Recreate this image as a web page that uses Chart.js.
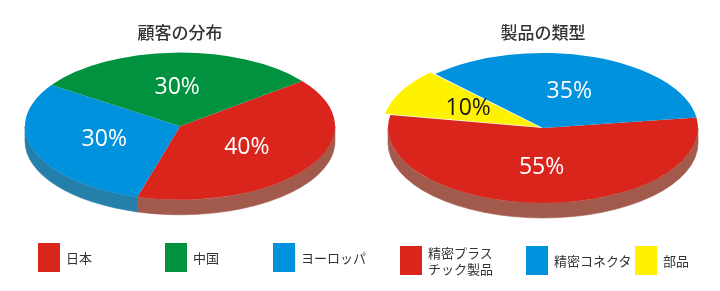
<!DOCTYPE html>
<html><head><meta charset="utf-8">
<script src="https://cdn.jsdelivr.net/npm/chart.js@4.4.0/dist/chart.umd.min.js"></script>
<style>
html,body{margin:0;padding:0;background:#fff;width:720px;height:291px;overflow:hidden;font-family:"Noto Sans CJK JP",sans-serif;}
#wrap{position:relative;width:720px;height:291px;}
canvas{position:absolute;top:0;}
.item{position:absolute;height:29px;display:flex;align-items:center;}
.box{width:22px;height:29px;flex:none;}
.txt{margin-left:6px;font-size:13px;line-height:15.6px;color:#333;white-space:pre;}
</style></head><body>
<div id="wrap">
<canvas id="c1" width="360" height="291" style="left:0"></canvas>
<canvas id="c2" width="360" height="291" style="left:360px"></canvas>
</div>
<script>
// ---- data ----
const customerTitle = '顧客の分布';
const customerLabels = ['日本', '中国', 'ヨーロッパ'];
const customerValues = [40, 30, 30];

const productTitle = '製品の類型';
const productLabels = ['精密プラス\nチック製品', '精密コネクタ', '部品'];
const productValues = [55, 35, 10];

// ---- styles ----
const customerColors = ['#da251d', '#00923f', '#0092dd'];
const customerSides = ['#a25a4c', '#1c6e3f', '#2480aa'];
const customerTextColors = ['#ffffff', '#ffffff', '#ffffff'];
const customerOffsets = [0, 0, 0];

const productColors = ['#da251d', '#0092dd', '#fff200'];
const productSides = ['#a25a4c', '#2480aa', '#b0a600'];
const productTextColors = ['#ffffff', '#ffffff', '#1a1a1a'];
const productOffsets = [0, 0, 8];

// slices are drawn clockwise in this order (legend keeps original order)
const drawOrder = [0, 2, 1];

const pie3d = {
  id: 'pie3d',
  beforeDatasetsDraw(chart, args, o) {
    const ctx = chart.ctx;
    const meta = chart.getDatasetMeta(0);
    const arcs = meta.data;
    const ds = chart.data.datasets[0];
    const cx = arcs[0].x, cy = arcs[0].y, r = arcs[0].outerRadius;
    const sx = o.rx / r;
    const rx = r * sx, ry = r;
    const D = o.depth;
    arcs.forEach((a, i) => {
      for (const k of [-1, 0, 1]) {
        const s = a.startAngle + k * 2 * Math.PI, e = a.endAngle + k * 2 * Math.PI;
        const lo = Math.max(s, 0), hi = Math.min(e, Math.PI);
        if (hi > lo) {
          ctx.beginPath();
          ctx.ellipse(cx, cy, rx, ry, 0, lo, hi, false);
          ctx.lineTo(cx + rx * Math.cos(hi), cy + ry * Math.sin(hi) + D);
          ctx.ellipse(cx, cy + D, rx, ry, 0, hi, lo, true);
          ctx.closePath();
          ctx.fillStyle = ds.sideColor[i];
          ctx.fill();
          ctx.strokeStyle = ds.sideColor[i];
          ctx.lineWidth = 0.6;
          ctx.stroke();
        }
      }
    });
    ctx.save();
    ctx.translate(cx, cy);
    ctx.scale(sx, 1);
    ctx.translate(-cx, -cy);
  },
  afterDatasetsDraw(chart, args, o) {
    const ctx = chart.ctx;
    ctx.restore();
    const arcs = chart.getDatasetMeta(0).data;
    const ds = chart.data.datasets[0];
    const r = arcs[0].outerRadius;
    const sx = o.rx / r;
    ctx.save();
    ctx.font = '23px "Open Sans", sans-serif';
    ctx.textAlign = 'center';
    ctx.textBaseline = 'middle';
    arcs.forEach((a, i) => {
      const mid = (a.startAngle + a.endAngle) / 2;
      const off = (ds.offset[i] || 0) / 4;
      const x = a.x + (r * 0.52 + off) * Math.cos(mid) * sx;
      const y = a.y + (r * 0.52 + off) * Math.sin(mid);
      ctx.fillStyle = ds.textColor[i];
      ctx.fillText(ds.data[i] + '%', x, y);
    });
    ctx.restore();
  }
};

function makePie(id, title, labels, values, colors, sides, textColors, offsets, rotation, radius, padding, rx) {
  const pick = arr => drawOrder.map(i => arr[i]);
  return new Chart(document.getElementById(id), {
    type: 'pie',
    data: {
      labels: pick(labels),
      datasets: [{
        data: pick(values),
        backgroundColor: pick(colors),
        sideColor: pick(sides),
        textColor: pick(textColors),
        offset: pick(offsets),
        borderWidth: 0,
        clip: false
      }]
    },
    options: {
      responsive: false,
      animation: false,
      devicePixelRatio: 1,
      rotation: rotation,
      radius: radius,
      layout: { padding: padding },
      events: [],
      plugins: {
        legend: { display: false },
        tooltip: { enabled: false },
        title: {
          display: true,
          text: title,
          color: '#333333',
          font: { family: '"Noto Sans CJK JP", sans-serif', size: 17, weight: '500', lineHeight: 1.2 },
          padding: { top: 22, bottom: 10 }
        },
        pie3d: { rx: rx, depth: 15 }
      }
    },
    plugins: [pie3d]
  });
}

makePie('c1', customerTitle, customerLabels, customerValues, customerColors, customerSides,
  customerTextColors, customerOffsets, 52, 73.6, { left: 0, right: 0, top: 0, bottom: 91 }, 155);
makePie('c2', productTitle, productLabels, productValues, productColors, productSides,
  productTextColors, productOffsets, 82, 75, { left: 6, right: 0, top: 0, bottom: 87.4 }, 155);

// ---- HTML legend ----
const wrap = document.getElementById('wrap');
function legend(labels, colors, xs, top) {
  labels.forEach((lab, i) => {
    const it = document.createElement('div');
    it.className = 'item';
    it.style.left = xs[i] + 'px';
    it.style.top = top + 'px';
    const b = document.createElement('div');
    b.className = 'box';
    b.style.background = colors[i];
    const t = document.createElement('span');
    t.className = 'txt';
    t.textContent = lab;
    it.appendChild(b); it.appendChild(t);
    wrap.appendChild(it);
  });
}
legend(customerLabels, customerColors, [38, 165, 273], 243);
legend(productLabels, productColors, [400, 526, 635], 246);
</script>
</body></html>
